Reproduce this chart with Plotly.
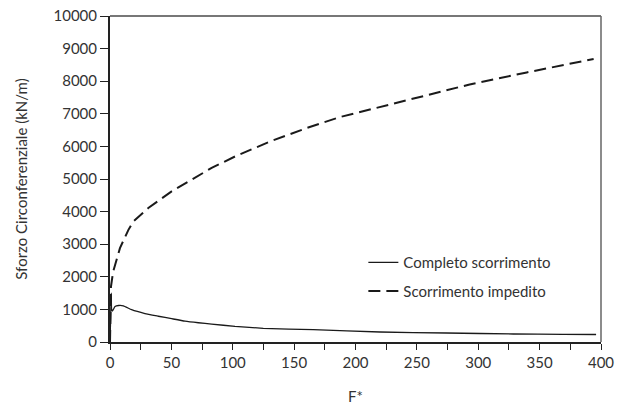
import plotly.graph_objects as go

# Data
f_completo = [0, 0.5, 1.0, 1.3, 2.0, 4.1, 7.0, 10.9, 17.6, 28.5, 39.4, 50.2, 61.1, 72.0,
              82.8, 101.8, 124.9, 165.6, 220.0, 274.0, 328.6, 369.0, 396.0]
v_completo = [0, 700, 1500, 1000, 950, 1090, 1120, 1110, 990, 870, 790, 715, 640, 590,
              550, 480, 420, 377, 307, 276, 245, 233, 230]

f_impedito = [0, 0.4, 0.8, 2.5, 5.4, 8.1, 15.0, 19.0, 31.2, 50.2, 66.5, 82.8, 101.8,
              130.3, 160.0, 187.4, 217.0, 250.0, 293.0, 339.5, 394.0]
v_impedito = [0, 1000, 1700, 2150, 2520, 2880, 3440, 3700, 4110, 4620, 4980, 5340, 5690,
              6150, 6560, 6900, 7180, 7490, 7900, 8270, 8680]

x_ticks = [0, 50, 100, 150, 200, 250, 300, 350, 400]
y_ticks = [0, 1000, 2000, 3000, 4000, 5000, 6000, 7000, 8000, 9000, 10000]

FONT = "Lato"
TXT = "#333333"
FS = 15

fig = go.Figure()
fig.add_trace(go.Scatter(x=f_completo, y=v_completo, mode="lines",
                         name="Completo scorrimento", legendgroup="a",
                         line=dict(color="#1a1a1a", width=1.3, shape="spline", smoothing=0.4)))
fig.add_trace(go.Scatter(x=f_impedito, y=v_impedito, mode="lines",
                         name="Scorrimento impedito", legendgroup="b",
                         line=dict(color="#1a1a1a", width=2, dash="12px,6px")))

fig.update_layout(
    width=619, height=412, autosize=False,
    margin=dict(l=110, r=18, t=16, b=70, autoexpand=False),
    paper_bgcolor="white", plot_bgcolor="white",
    font=dict(family=FONT, size=FS, color=TXT),
    showlegend=True,
    legend=dict(x=0.516, y=0.294, xanchor="left", yanchor="top",
                bgcolor="rgba(0,0,0,0)", borderwidth=0,
                font=dict(family=FONT, size=FS, color=TXT),
                tracegroupgap=6),
    xaxis=dict(range=[0, 400], tickvals=x_ticks, ticktext=[str(v) for v in x_ticks],
               automargin=False,
               ticks="outside", ticklen=6, tickwidth=1.3, tickcolor="#222",
               showline=True, linecolor="#222", linewidth=2,
               showgrid=False, zeroline=False,
               minor=dict(dtick=25, ticks="outside", ticklen=6, tickwidth=1.3, tickcolor="#222"),
               title=dict(text="F*", font=dict(family=FONT, size=FS, color=TXT), standoff=21),
               tickfont=dict(family=FONT, size=FS, color=TXT)),
    yaxis=dict(range=[0, 10000], tickvals=y_ticks, ticktext=[str(v) for v in y_ticks],
               automargin=False,
               ticks="outside", ticklen=8, tickwidth=1.3, tickcolor="#222",
               showline=True, linecolor="#222", linewidth=2,
               showgrid=False, zeroline=False,
               title=dict(text="Sforzo Circonferenziale (kN/m)",
                          font=dict(family=FONT, size=FS, color=TXT), standoff=22),
               tickfont=dict(family=FONT, size=FS, color=TXT)),
)

# Gray frame on top and right
fig.add_shape(type="line", xref="paper", yref="paper", x0=0, x1=1, y0=1, y1=1,
              line=dict(color="#777777", width=2))
fig.add_shape(type="line", xref="paper", yref="paper", x0=1, x1=1, y0=0, y1=1,
              line=dict(color="#666666", width=1.5))

fig.write_html("out.html")
